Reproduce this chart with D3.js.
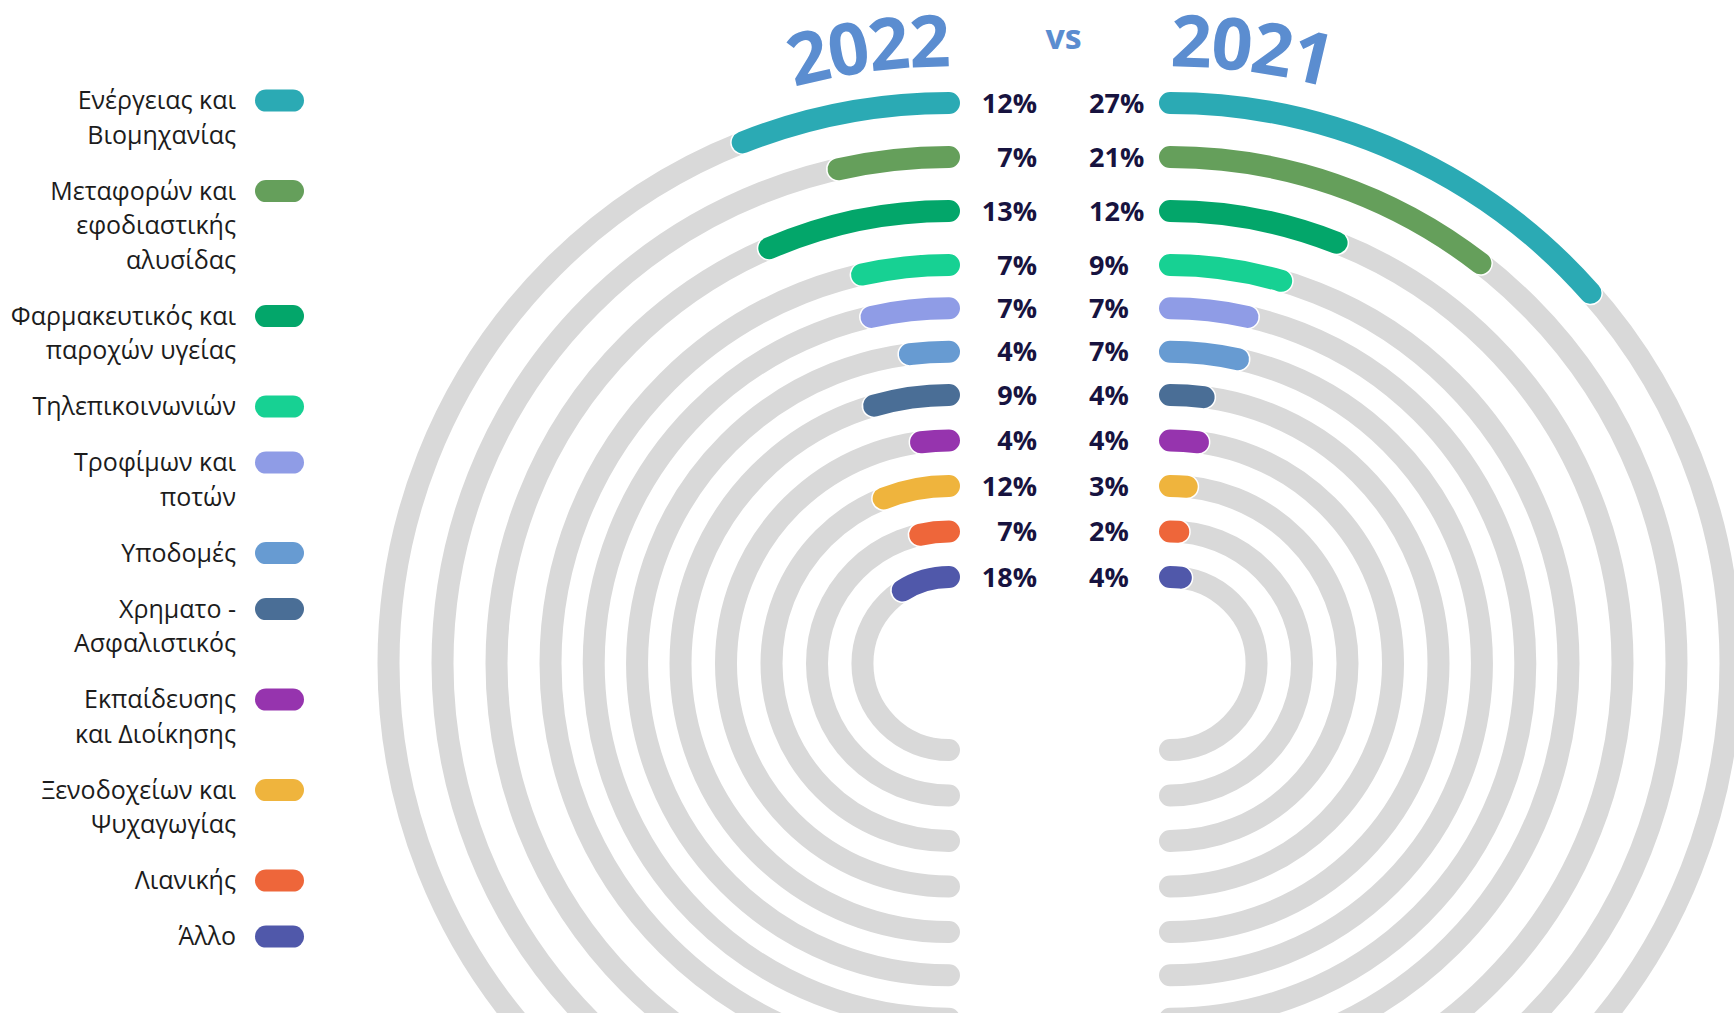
<!DOCTYPE html>
<html>
<head>
<meta charset="utf-8">
<script src="https://cdn.jsdelivr.net/npm/d3@7"></script>
<style>
  html, body { margin: 0; padding: 0; background: #ffffff; }
  svg { display: block; }
</style>
</head>
<body>
<svg id="chart" width="1734" height="1013"></svg>
<script>
// ---------------- DATA ----------------
const categories = [
  "Ενέργειας και\nΒιομηχανίας",
  "Μεταφορών και\nεφοδιαστικής\nαλυσίδας",
  "Φαρμακευτικός και\nπαροχών υγείας",
  "Τηλεπικοινωνιών",
  "Τροφίμων και\nποτών",
  "Υποδομές",
  "Χρηματο -\nΑσφαλιστικός",
  "Εκπαίδευσης\nκαι Διοίκησης",
  "Ξενοδοχείων και\nΨυχαγωγίας",
  "Λιανικής",
  "Άλλο"
];
const values2022 = [12, 7, 13, 7, 7, 4, 9, 4, 12, 7, 18];
const values2021 = [27, 21, 12, 9, 7, 7, 4, 4, 3, 2, 4];
const years = ["2022", "2021"];
const vsLabel = "vs";
const colors = ["#2baab4", "#659f5b", "#03a66a", "#17d193", "#8f9ce6", "#679bd2",
                "#4a6e96", "#9634ae", "#efb43d", "#ee663a", "#5058aa"];

// ---------------- LAYOUT ----------------
const W = 1734, H = 1013;
const cy = 663.5;
const cxLeft = 949, cxRight = 1170;
const barW = 22;
const trackColor = "#d9d9d9";
const labelColor = "#17133f";
const titleColor = "#5b8dd0";

const svg = d3.select("#chart");

const idx = d3.range(categories.length);
// ring radius by category index (outer -> inner)
const rScale = d3.scaleLinear().domain([0, 3, 6, 10]).range([560.5, 398.5, 268.5, 86.5]);
// value (percent) -> sweep angle, 100% = half circle
const aScale = d3.scaleLinear().domain([0, 100]).range([0, Math.PI]);

function arcPath(cx, r, sweep, side) {
  const p = d3.path();
  const a0 = -Math.PI / 2;
  if (side === "right") p.arc(cx, cy, r, a0, a0 + sweep, false);
  else p.arc(cx, cy, r, a0, a0 - sweep, true);
  return p.toString();
}

function drawSide(cx, values, side) {
  const g = svg.append("g");
  // gray tracks (half circles)
  g.selectAll("path.track").data(idx).join("path")
    .attr("class", "track")
    .attr("d", i => arcPath(cx, rScale(i), Math.PI, side))
    .attr("fill", "none")
    .attr("stroke", trackColor)
    .attr("stroke-width", barW)
    .attr("stroke-linecap", "round");
  // white halo under bars
  g.selectAll("path.halo").data(idx).join("path")
    .attr("class", "halo")
    .attr("d", i => arcPath(cx, rScale(i), aScale(values[i]), side))
    .attr("fill", "none")
    .attr("stroke", "#ffffff")
    .attr("stroke-width", barW + 3)
    .attr("stroke-linecap", "round");
  // colored bars
  g.selectAll("path.bar").data(idx).join("path")
    .attr("class", "bar")
    .attr("d", i => arcPath(cx, rScale(i), aScale(values[i]), side))
    .attr("fill", "none")
    .attr("stroke", i => colors[i])
    .attr("stroke-width", barW)
    .attr("stroke-linecap", "round");
  // percent labels
  g.selectAll("text.pct").data(idx).join("text")
    .attr("class", "pct")
    .attr("x", side === "left" ? 1037 : 1089)
    .attr("y", i => cy - rScale(i))
    .attr("dy", "0.36em")
    .attr("text-anchor", side === "left" ? "end" : "start")
    .attr("font-family", "'Open Sans', 'Noto Sans', sans-serif")
    .attr("font-weight", 700)
    .attr("font-size", 27)
    .attr("fill", labelColor)
    .text(i => values[i] + "%");
}

drawSide(cxLeft, values2022, "left");
drawSide(cxRight, values2021, "right");

// ---------------- CURVED YEAR TITLES ----------------
const defs = svg.append("defs");
const titleR = 597;
{
  const p = d3.path();
  p.arc(cxLeft, cy, titleR, -Math.PI / 2 - 0.6, -Math.PI / 2, false);
  defs.append("path").attr("id", "tpLeft").attr("d", p.toString());
  const q = d3.path();
  q.arc(cxRight, cy, titleR, -Math.PI / 2, -Math.PI / 2 + 0.6, false);
  defs.append("path").attr("id", "tpRight").attr("d", q.toString());
}
const titleFont = "'Open Sans', 'Noto Sans', sans-serif";
svg.append("text")
  .attr("font-family", titleFont).attr("font-weight", 700).attr("font-size", 72)
  .attr("fill", titleColor).attr("letter-spacing", -2)
  .append("textPath").attr("href", "#tpLeft")
  .attr("startOffset", "100%").attr("text-anchor", "end")
  .text(years[0]);
svg.append("text")
  .attr("font-family", titleFont).attr("font-weight", 700).attr("font-size", 72)
  .attr("fill", titleColor).attr("letter-spacing", -2)
  .append("textPath").attr("href", "#tpRight")
  .attr("startOffset", "0%").attr("text-anchor", "start")
  .text(years[1]);
svg.append("text")
  .attr("x", (cxLeft + cxRight) / 2 + 4).attr("y", 49)
  .attr("text-anchor", "middle")
  .attr("font-family", titleFont).attr("font-weight", 700).attr("font-size", 34)
  .attr("fill", titleColor)
  .text(vsLabel);

// ---------------- LEGEND ----------------
const lineH = 34.5, itemGap = 21.5;
const legendTextX = 236, swX = 255, swW = 49, swH = 22;
let yCursor = 100.6;
const legendPos = categories.map(c => {
  const lines = c.split("\n");
  const y = yCursor;
  yCursor += lines.length * lineH + itemGap;
  return { lines, y };
});
const lg = svg.append("g");
const items = lg.selectAll("g.item").data(idx).join("g").attr("class", "item");
items.append("rect")
  .attr("x", swX).attr("y", i => legendPos[i].y - swH / 2)
  .attr("width", swW).attr("height", swH)
  .attr("rx", swH / 2).attr("ry", swH / 2)
  .attr("fill", i => colors[i]);
items.append("text")
  .attr("text-anchor", "end")
  .attr("font-family", "'Open Sans', 'Noto Sans', sans-serif")
  .attr("font-size", 25)
  .attr("fill", "#1c1c1c")
  .each(function(i) {
    const t = d3.select(this);
    legendPos[i].lines.forEach((ln, k) => {
      t.append("tspan")
        .attr("x", legendTextX)
        .attr("y", legendPos[i].y + k * lineH)
        .attr("dy", "0.35em")
        .text(ln);
    });
  });
</script>
</body>
</html>
